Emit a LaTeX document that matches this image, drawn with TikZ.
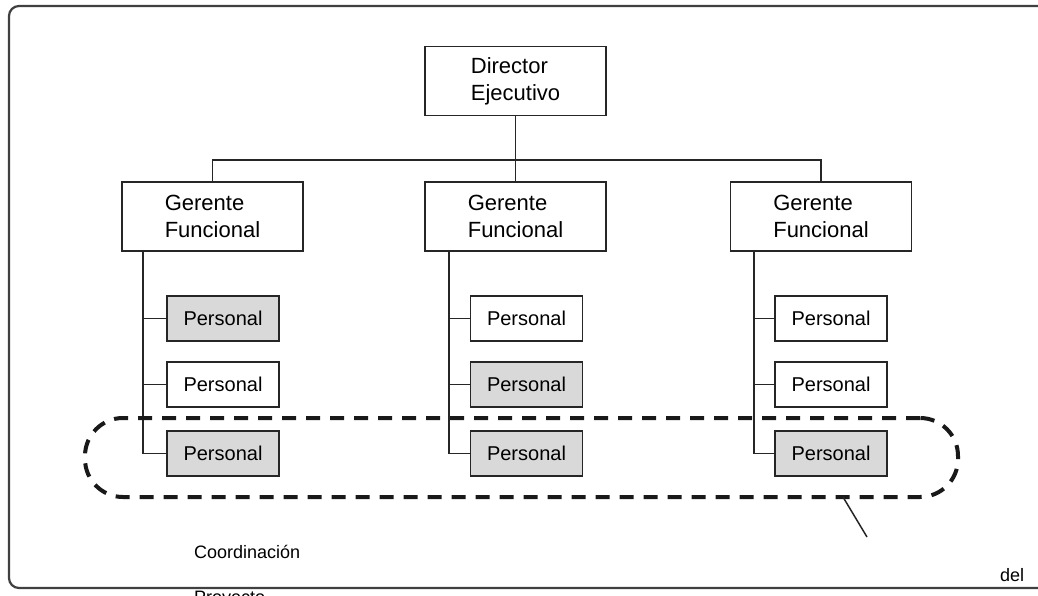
\documentclass[tikz,border=0pt]{standalone}
\usepackage{fontspec}
\setmainfont{Liberation Sans}
\begin{document}
\begin{tikzpicture}[x=1pt,y=-1pt,
  jefe/.style={draw=black!85, line width=1.3pt, fill=white, minimum width=181pt, minimum height=69pt, align=left, font=\fontsize{22}{27}\selectfont},
  personal/.style={draw=black!85, line width=1.3pt, minimum width=112pt, minimum height=45pt, font=\fontsize{20}{24}\selectfont},
  linea/.style={black!85, line width=1.3pt},
  marco/.style={black!75, line width=2.2pt, rounded corners=10pt},
  grupo/.style={draw=black!90, line width=4pt, dash pattern=on 14pt off 10pt, rounded corners=38pt, minimum width=873pt, minimum height=79pt},
  nota/.style={font=\fontsize{18}{22}\selectfont, inner sep=0pt}]
\useasboundingbox (0,0) rectangle (1038,596);
\draw[marco] (1045,6) -- (9,6) -- (9,588) -- (1045,588);
% jerarquia
\node[jefe] (dir) at (515.5,81) {Director\\Ejecutivo};
\node[jefe] (gf1) at (212.5,216.5) {Gerente\\Funcional};
\node[jefe] (gf2) at (515.5,216.5) {Gerente\\Funcional};
\node[jefe] (gf3) at (821,216.5) {Gerente\\Funcional};
\coordinate (bus) at (515.5,160);
\draw[linea] (dir) -- (gf2);
\draw[linea] (gf1.north) |- (bus) -| (gf3.north);
% personal de cada area
\foreach \c/\x/\s/\fa/\fb/\fc in {1/223/143/gray!30/white/gray!30, 2/526.5/449/white/gray!30/gray!30, 3/831/754/white/white/gray!30} {
  \node[personal, fill=\fa] (p\c1) at (\x,318.5) {Personal};
  \node[personal, fill=\fb] (p\c2) at (\x,384.5) {Personal};
  \node[personal, fill=\fc] (p\c3) at (\x,453.5) {Personal};
  \coordinate (s\c) at (\s,251);
  \draw[linea] (s\c) |- (p\c3.west);
  \draw[linea] (s\c |- p\c1.west) -- (p\c1.west);
  \draw[linea] (s\c |- p\c2.west) -- (p\c2.west);
}
% coordinacion del proyecto
\node[grupo] (coord) at (521.5,457.5) {};
\coordinate (g1) at (843,497);
\coordinate (g2) at (867,537);
\draw[linea, line width=1.5pt] (g1) -- (g2);
\node[nota, anchor=west] (t1) at (194,552) {Coordinación};
\node[nota, anchor=north west] (t2) at (194,591) {Proyecto};
\node[nota, anchor=west] (t3) at (1000,575) {del};
\end{tikzpicture}
\end{document}
